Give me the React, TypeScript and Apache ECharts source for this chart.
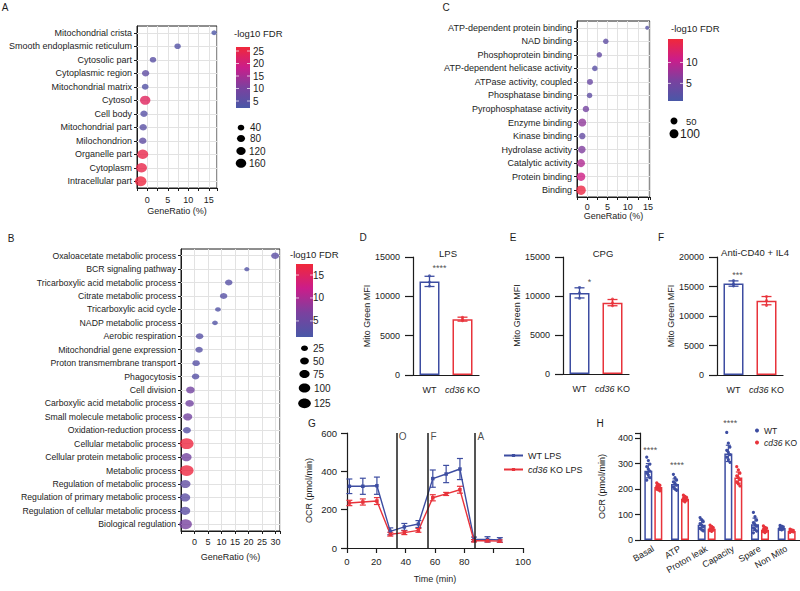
import React, { useEffect, useRef } from 'react';
import * as echarts from 'echarts';

const FONT = '"Liberation Sans", Arial, Helvetica, sans-serif';
const INK = '#1c1c1c';
const GRID_LINE = '#e2e2e2';
const BLUE = '#3d4da1';
const RED = '#e8333b';
const FDR_COLORS = ['#4958a7', '#7b419f', '#cb1d8a', '#f0283a'];

// ---------- Panel A (cellular component) ----------
const aTerms = ['Mitochondrial crista', 'Smooth endoplasmic reticulum', 'Cytosolic part', 'Cytoplasmic region', 'Mitochondrial matrix', 'Cytosol', 'Cell body', 'Mitochondrial part', 'Milochondrion', 'Organelle part', 'Cytoplasm', 'Intracellular part'];
const aRatio = [16.3, 7.4, 1.4, -0.4, -0.5, -0.5, -0.8, -1.0, -1.1, -1.1, -1.4, -1.6];
const aFdr = [3, 4, 5, 6, 4, 23, 4.5, 5, 6, 25, 25, 26];
const aCount = [20, 40, 40, 60, 45, 160, 60, 62, 62, 185, 185, 210];
const aFdrTicks = [25, 20, 15, 10, 5];
const aSizeTicks = [40, 80, 120, 160];

// ---------- Panel C (molecular function) ----------
const cTerms = ['ATP-dependent protein binding', 'NAD binding', 'Phosphoprotein binding', 'ATP-dependent helicase activity', 'ATPase activity, coupled', 'Phosphatase binding', 'Pyrophosphatase activity', 'Enzyme binding', 'Kinase binding', 'Hydrolase activity', 'Catalytic activity', 'Protein binding', 'Binding'];
const cRatio = [14.8, 4.6, 3.0, 1.9, 0.7, 0.6, -0.3, -1.2, -1.2, -1.3, -1.5, -1.5, -1.5];
const cFdr = [2, 3, 3.5, 2.5, 4, 3, 5, 7, 3.5, 6, 9, 11, 15];
const cCount = [8, 25, 25, 25, 33, 25, 41, 73, 41, 62, 73, 86, 115];
const cFdrTicks = [10, 5];
const cSizeTicks = [50, 100];

// ---------- Panel B (biological process) ----------
const bTerms = ['Oxaloacetate metabolic process', 'BCR signaling pathway', 'Tricarboxylic acid metabolic process', 'Citrate metabolic process', 'Tricarboxylic acid cycle', 'NADP metabolic process', 'Aerobic respiration', 'Mitochondrial gene expression', 'Proton transmembrane transport', 'Phagocytosis', 'Cell division', 'Carboxylic acid metabolic process', 'Small molecule metabolic process', 'Oxidation-reduction process', 'Cellular metabolic process', 'Cellular protein metabolic process', 'Metabolic process', 'Regulation of metabolic process', 'Regulation of primary metabolic process', 'Regulation of cellular metabolic process', 'Biological regulation'];
const bRatio = [29.9, 19.4, 12.7, 10.8, 8.7, 7.6, 1.9, 1.7, 0.6, 0.4, -1.5, -1.8, -2.5, -2.8, -2.9, -3.0, -2.9, -3.4, -3.5, -3.5, -3.3];
const bFdr = [3.5, 2.5, 3, 3, 2.5, 2.5, 3, 3, 3, 3, 6, 6, 6, 3, 17, 6, 17, 4, 3.5, 3.5, 6.5];
const bCount = [39, 10, 32, 32, 14, 14, 32, 32, 32, 32, 47, 47, 56, 39, 156, 77, 156, 77, 77, 77, 127];
const bFdrTicks = [15, 10, 5];
const bSizeTicks = [25, 50, 75, 100, 125];

// ---------- Panels D, E, F (Mito Green MFI) ----------
const mfiGroups = ['WT', 'cd36 KO'];
const lpsMean = [11900, 7100];
const lpsSd = [650, 250];
const lpsPts = [[12600, 11800, 11300], [7350, 7100, 6900]];
const cpgMean = [10400, 9150];
const cpgSd = [650, 400];
const cpgPts = [[11100, 10400, 9700], [9600, 9150, 8750]];
const cd40Mean = [15500, 12600];
const cd40Sd = [450, 700];
const cd40Pts = [[16000, 15500, 15100], [13300, 12600, 11800]];
const mfiTitles = ['LPS', 'CPG', 'Anti-CD40 + IL4'];
const mfiStars = ['****', '*', '***'];
const mfiStarY = [13600, 11800, 16900];

// ---------- Panel G (OCR time course) ----------
const gTime = [1.6, 10.8, 20.4, 29.5, 39.1, 48.7, 58.5, 67.6, 77.0, 86.6, 95.8, 104.2];
const gWtMean = [322, 322, 325, 87, 110, 125, 362, 386, 412, 45, 45, 42];
const gWtSd = [38, 42, 45, 18, 18, 18, 45, 45, 55, 12, 14, 12];
const gKoMean = [235, 240, 245, 72, 80, 92, 262, 282, 304, 38, 38, 36];
const gKoSd = [14, 16, 18, 10, 10, 10, 16, 8, 18, 6, 6, 6];
const injTime = [33.6, 55.3, 87.3];
const injName = ['O', 'F', 'A'];

// ---------- Panel H (OCR parameters) ----------
const hCats = ['Basal', 'ATP', 'Proton leak', 'Capacity', 'Spare', 'Non Mito'];
const hWtMean = [272, 220, 60, 340, 62, 47];
const hWtSd = [28, 20, 18, 32, 24, 7];
const hKoMean = [208, 162, 44, 245, 40, 35];
const hKoSd = [10, 9, 8, 22, 10, 5];
const hWtPts = [
  [325, 312, 298, 288, 278, 270, 262, 255, 245, 235],
  [258, 245, 235, 228, 222, 215, 208, 200, 195],
  [88, 80, 72, 64, 58, 52, 46, 40, 36],
  [422, 380, 365, 352, 344, 335, 325, 315, 305],
  [108, 92, 78, 68, 60, 54, 48, 42, 35, 28],
  [57, 54, 51, 49, 47, 44, 42, 40],
];
const hKoPts = [
  [224, 218, 214, 210, 207, 204, 200, 197, 193],
  [176, 171, 166, 163, 160, 157, 154, 150],
  [58, 53, 48, 45, 42, 40, 37, 34],
  [288, 275, 262, 252, 245, 237, 228, 220, 212],
  [55, 50, 46, 42, 39, 36, 33, 29],
  [43, 40, 38, 36, 34, 32, 30],
];
const hStars = ['****', '****', '', '****', '', ''];
const hStarY = [352, 294, 0, 459, 0, 0];

const sizeA = (c: number) => 2.5 + 0.55 * Math.sqrt(c);
const sizeB = (c: number) => 2 + 0.8 * Math.sqrt(c);
const sizeC = (c: number) => 2 + 0.7 * Math.sqrt(c);

const koFmt = (v: string) => (v.startsWith('cd36') ? '{i|cd36}' + v.slice(4) : v);
const italicRich = (fs: number) => ({ i: { fontStyle: 'italic', fontSize: fs, fontFamily: FONT, color: INK } });
const plain = (v: number) => String(v);

function buildOption() {
  const xAxis: any[] = [];
  const yAxis: any[] = [];
  const series: any[] = [];
  const visualMap: any[] = [];
  const g: any[] = [];
  const add = (s: any) => {
    series.push(s);
    return series.length - 1;
  };
  const txt = (x: number, y: number, text: string, fontSize = 9, align = 'left', extra: any = {}) =>
    g.push({ type: 'text', x, y, silent: true, style: { text, fontSize, fontFamily: FONT, fill: INK, align, verticalAlign: 'middle', ...extra } });

  const grid = [
    { left: 137, top: 26, width: 80, height: 162 },
    { left: 577, top: 21, width: 73, height: 176 },
    { left: 181, top: 249, width: 99, height: 282 },
    { left: 413, top: 257, width: 66, height: 118 },
    { left: 563, top: 257, width: 66, height: 117 },
    { left: 717, top: 257, width: 66, height: 118 },
    { left: 347, top: 433, width: 176, height: 115 },
    { left: 640, top: 433, width: 160, height: 107 },
  ].map((gr, i) => ({ ...gr, show: i < 3, borderColor: INK, borderWidth: 1, backgroundColor: 'transparent' }));

  // ---- dot plots ----
  const dotPanels = [
    { gi: 0, terms: aTerms, ratio: aRatio, fdr: aFdr, count: aCount, min: -2.5, max: 17, interval: 2.5, lm: 7, ng: 18, size: sizeA, ax: 1.1, ay: 0.95, fs: 9,
      vm: { min: 2.2, max: 26.6, left: 236, top: 47, w: 14, h: 61 }, fdrTicks: aFdrTicks, fdrX: 253, fdrFs: 10, title: [234, 33],
      sizes: aSizeTicks, sizeY: [127.7, 138.5, 151, 163.3], sizeX: 241, sizeFs: [10, 10, 10, 10], sizeLXs: [250, 250, 249, 249] },
    { gi: 1, terms: cTerms, ratio: cRatio, fdr: cFdr, count: cCount, min: -2.5, max: 15.5, interval: 2.5, lm: 5, ng: 13, size: sizeC, ax: 1, ay: 1, fs: 9,
      vm: { min: 0.8, max: 15.6, left: 668, top: 39, w: 15, h: 62 }, fdrTicks: cFdrTicks, fdrX: 686, fdrFs: 10.5, title: [671, 28],
      sizes: cSizeTicks, sizeY: [121, 133.7], sizeX: 674, sizeFs: [9.5, 12], sizeLXs: [686, 680] },
    { gi: 2, terms: bTerms, ratio: bRatio, fdr: bFdr, count: bCount, min: -5, max: 31.7, interval: 5, lm: 6, ng: 21, size: sizeB, ax: 1.15, ay: 0.9, fs: 8.7,
      vm: { min: 1.5, max: 17.4, left: 296, top: 264, w: 17, h: 73 }, fdrTicks: bFdrTicks, fdrX: 313, fdrFs: 10, title: [290, 254],
      sizes: bSizeTicks, sizeY: [348.3, 361, 374, 388, 403.3], sizeX: 304.5, sizeFs: [10, 10, 10, 10, 10], sizeLXs: [313, 313, 313, 314, 314] },
  ];

  dotPanels.forEach((p) => {
    xAxis[p.gi] = {
      type: 'value', gridIndex: p.gi, min: p.min, max: p.max, interval: p.interval,
      axisLine: { show: true, onZero: false, lineStyle: { color: INK, width: 1 } },
      axisTick: { show: true, length: 3, lineStyle: { color: INK } },
      axisLabel: { fontSize: 9, margin: p.lm, color: INK, fontFamily: FONT,
        formatter: (v: number) => (v >= 0 && Math.abs(v % 5) < 1e-6 ? String(Math.round(v)) : '') },
      splitLine: { show: true, lineStyle: { color: GRID_LINE, width: 1 } },
      name: 'GeneRatio (%)', nameLocation: 'middle', nameGap: p.ng,
      nameTextStyle: { fontSize: 9, color: INK, fontFamily: FONT },
    };
    yAxis[p.gi] = {
      type: 'category', gridIndex: p.gi, data: p.terms, inverse: true,
      axisLine: { show: true, onZero: false, lineStyle: { color: INK, width: 1 } },
      axisTick: { show: true, alignWithLabel: true, length: 3, lineStyle: { color: INK } },
      axisLabel: { fontSize: p.fs, margin: 5, color: INK, fontFamily: FONT, interval: 0 },
      splitLine: { show: false },
    };
    add({
      type: 'scatter', name: 'grid' + p.gi, xAxisIndex: p.gi, yAxisIndex: p.gi, data: [], z: 1, silent: true,
      markLine: { silent: true, symbol: ['none', 'none'], label: { show: false },
        lineStyle: { color: GRID_LINE, width: 1, type: 'solid' },
        data: p.terms.map((_, i) => ({ yAxis: i })) },
    });
    const si = add({
      type: 'scatter', name: 'dots' + p.gi, xAxisIndex: p.gi, yAxisIndex: p.gi, z: 5,
      data: p.terms.map((_, i) => [p.ratio[i], i, p.fdr[i], p.count[i]]),
      symbol: 'circle',
      symbolSize: (v: number[]) => [p.size(v[3]) * p.ax, p.size(v[3]) * p.ay],
    });
    visualMap.push({
      type: 'continuous', seriesIndex: si, dimension: 2, min: p.vm.min, max: p.vm.max,
      inRange: { color: FDR_COLORS }, show: false,
    });
    // legend: title, colour bar (same colour ramp, bottom = min), labels, size keys
    txt(p.title[0], p.title[1], '-log10 FDR', 9.5);
    g.push({
      type: 'rect', silent: true,
      shape: { x: p.vm.left, y: p.vm.top, width: p.vm.w, height: p.vm.h },
      style: {
        fill: new echarts.graphic.LinearGradient(0, 1, 0, 0, FDR_COLORS.map((c, k) => ({ offset: k / (FDR_COLORS.length - 1), color: c }))),
      },
    });
    p.fdrTicks.forEach((v) => {
      const y = p.vm.top + p.vm.h - ((v - p.vm.min) / (p.vm.max - p.vm.min)) * p.vm.h;
      txt(p.fdrX, y, String(v), p.fdrFs);
      g.push({ type: 'line', silent: true, shape: { x1: p.vm.left, y1: y, x2: p.vm.left + 3, y2: y }, style: { stroke: '#fff', lineWidth: 1, opacity: 0.7 } });
      g.push({ type: 'line', silent: true, shape: { x1: p.vm.left + p.vm.w - 3, y1: y, x2: p.vm.left + p.vm.w, y2: y }, style: { stroke: '#fff', lineWidth: 1, opacity: 0.7 } });
    });
    p.sizes.forEach((c, k) => {
      const d = p.size(c);
      g.push({ type: 'ellipse', silent: true, shape: { cx: p.sizeX, cy: p.sizeY[k], rx: (d * p.ax) / 2, ry: (d * p.ay) / 2 }, style: { fill: '#000' } });
      txt(p.sizeLXs[k], p.sizeY[k], String(c), p.sizeFs[k]);
    });
  });

  // ---- D, E, F ----
  const mfiPanels = [
    { gi: 3, max: 15000, mean: lpsMean, sd: lpsSd, pts: lpsPts, title: [448, 253], letter: ['D', 363, 237], starOff: 10 },
    { gi: 4, max: 15000, mean: cpgMean, sd: cpgSd, pts: cpgPts, title: [603, 253], letter: ['E', 513, 237], starOff: 10 },
    { gi: 5, max: 20000, mean: cd40Mean, sd: cd40Sd, pts: cd40Pts, title: [755, 252], letter: ['F', 661, 237], starOff: 4 },
  ];
  const pal = [BLUE, RED];
  const errorBars = (palette: string[], offsets: number[], cap: number, lw: number) => (params: any, api: any) => {
    const cat = api.value(0);
    const m = api.value(1);
    const e = api.value(2);
    const k = api.value(3);
    const hi = api.coord([cat, m + e]);
    const lo = api.coord([cat, m - e]);
    const x = hi[0] + offsets[k];
    const style = { stroke: palette[k], lineWidth: lw };
    return {
      type: 'group',
      children: [
        { type: 'line', shape: { x1: x, y1: hi[1], x2: x, y2: lo[1] }, style },
        { type: 'line', shape: { x1: x - cap, y1: hi[1], x2: x + cap, y2: hi[1] }, style },
        { type: 'line', shape: { x1: x - cap, y1: lo[1], x2: x + cap, y2: lo[1] }, style },
      ],
    };
  };

  mfiPanels.forEach((p, pi) => {
    xAxis[p.gi] = {
      type: 'category', gridIndex: p.gi, data: mfiGroups,
      axisLine: { lineStyle: { color: INK, width: 1.2 } },
      axisTick: { alignWithLabel: true, length: 7, lineStyle: { color: INK, width: 1.2 } },
      axisLabel: { fontSize: 9, margin: 10, color: INK, fontFamily: FONT, interval: 0, formatter: koFmt, rich: italicRich(9) },
    };
    yAxis[p.gi] = {
      type: 'value', gridIndex: p.gi, min: 0, max: p.max, interval: 5000,
      axisLine: { show: true, lineStyle: { color: INK, width: 1.2 } },
      axisTick: { show: true, length: 8, lineStyle: { color: INK, width: 1.2 } },
      axisLabel: { fontSize: 9, margin: 13, color: INK, fontFamily: FONT, formatter: plain },
      splitLine: { show: false },
      name: 'Mito Green MFI', nameLocation: 'middle', nameGap: 41,
      nameTextStyle: { fontSize: 9, color: INK, fontFamily: FONT },
    };
    add({
      type: 'bar', name: 'mfi' + pi, xAxisIndex: p.gi, yAxisIndex: p.gi, barWidth: 20, z: 2,
      data: p.mean.map((m, i) => ({ value: m, itemStyle: { color: '#fff', borderColor: pal[i], borderWidth: 1.5 } })),
    });
    add({
      type: 'custom', name: 'mfiErr' + pi, xAxisIndex: p.gi, yAxisIndex: p.gi, z: 4,
      renderItem: errorBars(pal, [0, 0], 5, 1.3),
      data: p.mean.map((m, i) => [i, m, p.sd[i], i]),
    });
    add({
      type: 'scatter', name: 'mfiPts' + pi, xAxisIndex: p.gi, yAxisIndex: p.gi, z: 5, symbolSize: 3,
      data: p.pts.flatMap((arr, i) => arr.map((v) => ({ value: [i, v], itemStyle: { color: pal[i] } }))),
    });
    add({
      type: 'scatter', name: 'mfiSig' + pi, xAxisIndex: p.gi, yAxisIndex: p.gi, z: 6, clip: false, symbolSize: 0,
      data: [[0, mfiStarY[pi]]],
      label: { show: true, position: 'inside', offset: [p.starOff, 0], formatter: mfiStars[pi], fontSize: 9, color: INK, fontFamily: FONT },
    });
    txt(p.title[0], p.title[1], mfiTitles[pi], 9.5, 'center');
    txt(p.letter[1] as number, p.letter[2] as number, p.letter[0] as string, 10, 'center');
  });

  // ---- G ----
  xAxis[6] = {
    type: 'value', gridIndex: 6, min: 0, max: 120, interval: 20,
    axisLine: { show: true, onZero: false, lineStyle: { color: INK, width: 1.2 } },
    axisTick: { show: true, length: 5, lineStyle: { color: INK, width: 1.2 } },
    axisLabel: { fontSize: 9.5, margin: 8, color: INK, fontFamily: FONT,
      formatter: (v: number) => (v === 100 ? '' : v === 120 ? '100' : String(v)) },
    splitLine: { show: false },
    name: 'Time (min)', nameLocation: 'middle', nameGap: 26,
    nameTextStyle: { fontSize: 9, color: INK, fontFamily: FONT },
  };
  yAxis[6] = {
    type: 'value', gridIndex: 6, min: 0, max: 600, interval: 200,
    axisLine: { show: true, lineStyle: { color: INK, width: 1.2 } },
    axisTick: { show: true, length: 6, lineStyle: { color: INK, width: 1.2 } },
    axisLabel: { fontSize: 9.5, margin: 10, color: INK, fontFamily: FONT },
    splitLine: { show: false },
    name: 'OCR (pmol/min)', nameLocation: 'middle', nameGap: 34,
    nameTextStyle: { fontSize: 9, color: INK, fontFamily: FONT },
  };
  add({
    type: 'line', name: 'WT LPS', xAxisIndex: 6, yAxisIndex: 6, z: 4, color: BLUE,
    data: gTime.map((t, i) => [t, gWtMean[i]]), symbol: 'rect', symbolSize: 3.5, lineStyle: { width: 1.4 },
    markLine: { silent: true, symbol: ['none', 'none'], label: { show: false },
      lineStyle: { color: INK, width: 1.5, type: 'solid' }, data: injTime.map((t) => ({ xAxis: t })) },
  });
  add({
    type: 'line', name: 'cd36 KO LPS', xAxisIndex: 6, yAxisIndex: 6, z: 4, color: RED,
    data: gTime.map((t, i) => [t, gKoMean[i]]), symbol: 'rect', symbolSize: 3.5, lineStyle: { width: 1.4 },
  });
  add({
    type: 'custom', name: 'gErr', xAxisIndex: 6, yAxisIndex: 6, z: 3,
    renderItem: errorBars(pal, [0, 0], 3, 1.2),
    data: [
      ...gTime.map((t, i) => [t, gWtMean[i], gWtSd[i], 0]),
      ...gTime.map((t, i) => [t, gKoMean[i], gKoSd[i], 1]),
    ],
  });
  add({
    type: 'scatter', name: 'inj', xAxisIndex: 6, yAxisIndex: 6, z: 6, symbolSize: 1, itemStyle: { color: 'transparent' },
    data: injTime.map((t, i) => ({ value: [t, 600], name: injName[i] })),
    label: { show: true, position: [3, -1], align: 'left', verticalAlign: 'top', formatter: '{b}', fontSize: 10, color: INK, fontFamily: FONT },
  });
  txt(312, 423, 'G', 10, 'center');

  // ---- H ----
  xAxis[7] = {
    type: 'category', gridIndex: 7, data: hCats,
    axisLine: { lineStyle: { color: INK, width: 1.2 } },
    axisTick: { alignWithLabel: true, length: 5, lineStyle: { color: INK, width: 1.2 } },
    axisLabel: { fontSize: 9, margin: 8, rotate: 30, color: INK, fontFamily: FONT, interval: 0 },
  };
  yAxis[7] = {
    type: 'value', gridIndex: 7, min: 0, max: 420, interval: 100,
    axisLine: { show: true, lineStyle: { color: INK, width: 1.2 } },
    axisTick: { show: true, length: 5, lineStyle: { color: INK, width: 1.2 } },
    axisLabel: { fontSize: 9, margin: 7, color: INK, fontFamily: FONT, formatter: (v: number) => (v % 100 === 0 ? String(v) : '') },
    splitLine: { show: false },
    name: 'OCR (pmol/min)', nameLocation: 'middle', nameGap: 34,
    nameTextStyle: { fontSize: 9, color: INK, fontFamily: FONT },
  };
  add({
    type: 'bar', name: 'WT bar', xAxisIndex: 7, yAxisIndex: 7, barWidth: 8, barGap: '25%', z: 2,
    data: hWtMean, itemStyle: { color: '#fff', borderColor: BLUE, borderWidth: 1.5 },
  });
  add({
    type: 'bar', name: 'KO bar', xAxisIndex: 7, yAxisIndex: 7, barWidth: 8, barGap: '25%', z: 2,
    data: hKoMean, itemStyle: { color: '#fff', borderColor: RED, borderWidth: 1.5 },
  });
  const dotRender = (color: string, offset: number) => (params: any, api: any) => {
    const c = api.coord([api.value(0), api.value(1)]);
    return { type: 'circle', shape: { cx: c[0] + offset + api.value(2), cy: c[1], r: 1.6 }, style: { fill: color } };
  };
  const jit = (k: number) => ((k % 3) - 1) * 1.6;
  add({
    type: 'custom', name: 'WT', xAxisIndex: 7, yAxisIndex: 7, z: 4, itemStyle: { color: BLUE }, clip: false,
    renderItem: dotRender(BLUE, -5),
    data: hWtPts.flatMap((arr, i) => arr.map((v, k) => [i, v, jit(k)])),
  });
  add({
    type: 'custom', name: 'cd36 KO', xAxisIndex: 7, yAxisIndex: 7, z: 4, itemStyle: { color: RED },
    renderItem: dotRender(RED, 5),
    data: hKoPts.flatMap((arr, i) => arr.map((v, k) => [i, v, jit(k)])),
  });
  add({
    type: 'custom', name: 'hErr', xAxisIndex: 7, yAxisIndex: 7, z: 5,
    renderItem: errorBars(pal, [-5, 5], 2.5, 1.2),
    data: [
      ...hCats.map((_, i) => [i, hWtMean[i], hWtSd[i], 0]),
      ...hCats.map((_, i) => [i, hKoMean[i], hKoSd[i], 1]),
    ],
  });
  add({
    type: 'scatter', name: 'hSig', xAxisIndex: 7, yAxisIndex: 7, z: 6, clip: false, symbolSize: 0,
    data: hCats.map((_, i) => ({ value: [i, hStarY[i]], name: hStars[i] })).filter((d) => d.name !== ''),
    label: { show: true, position: 'inside', offset: [-3, 0], formatter: '{b}', fontSize: 9, color: INK, fontFamily: FONT },
  });
  txt(600, 423, 'H', 10, 'center');

  // panel letters for dot plots
  txt(5, 7, 'A', 10, 'center');
  txt(446, 7, 'C', 10, 'center');
  txt(11, 238, 'B', 10, 'center');

  return {
    animation: false,
    backgroundColor: '#fff',
    textStyle: { fontFamily: FONT },
    grid,
    xAxis,
    yAxis,
    visualMap,
    series,
    legend: [
      {
        data: ['WT LPS', 'cd36 KO LPS'], left: 498, top: 446, orient: 'vertical', itemWidth: 19, itemHeight: 4, itemGap: 5,
        selectedMode: false, formatter: koFmt,
        textStyle: { fontSize: 9, color: INK, fontFamily: FONT, rich: italicRich(9) },
      },
      {
        data: ['WT', 'cd36 KO'], left: 750, top: 421, orient: 'vertical', icon: 'circle', itemWidth: 4, itemHeight: 4, itemGap: 3,
        itemStyle: {}, selectedMode: false, formatter: koFmt,
        textStyle: { fontSize: 8.5, color: INK, fontFamily: FONT, rich: italicRich(8.5) },
      },
    ],
    graphic: { elements: g },
  };
}

export default function App() {
  const ref = useRef<HTMLDivElement>(null);
  useEffect(() => {
    const chart = echarts.init(ref.current as HTMLDivElement, null, { renderer: 'svg' });
    chart.setOption(buildOption() as any);
    return () => chart.dispose();
  }, []);
  return <div ref={ref} style={{ position: 'absolute', left: 0, top: 0, width: 800, height: 591, background: '#fff' }} />;
}
